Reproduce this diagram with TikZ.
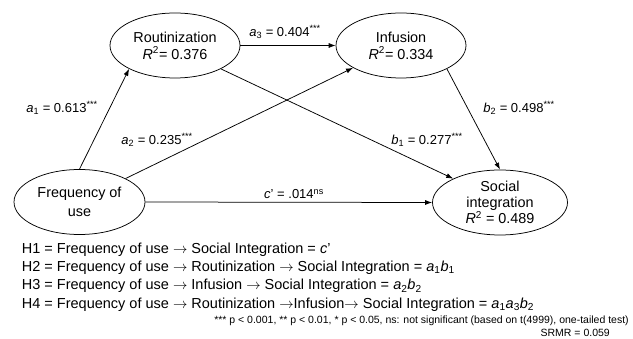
\documentclass[tikz,border=0pt]{standalone}
\usepackage{fontspec}
\setmainfont{Liberation Sans}
\usetikzlibrary{shapes.geometric,arrows.meta}
\begin{document}
\begin{tikzpicture}[x=1pt,y=-1pt,
  construct/.style={ellipse,draw,line width=0.75pt,inner sep=0pt,minimum width=131pt,minimum height=65pt},
  intext/.style={align=center,inner sep=0pt,font=\fontsize{14.4}{17}\selectfont},
  causal/.style={draw,line width=0.75pt,-{Latex[length=7pt,width=5pt]}},
  coef/.style={font=\fontsize{13}{15}\selectfont,inner sep=0pt},
  hyp/.style={anchor=base west,inner sep=0pt,font=\fontsize{14.5}{17}\selectfont},
  note/.style={anchor=base east,inner sep=0pt,font=\fontsize{10.5}{12}\selectfont}]
\useasboundingbox (0,0) rectangle (633,339);
% constructs
\node[construct,minimum width=130pt,label={[intext]center:{Routinization\\\textit{R}\textsuperscript{2}= 0.376}}] (rout) at (175,45.5) {};
\node[construct,minimum width=130pt,label={[intext]center:{Infusion\\\textit{R}\textsuperscript{2}= 0.334}}] (inf) at (401,45.5) {};
\node[construct,label={[intext,font=\fontsize{14.4}{19}\selectfont]center:{Frequency of\\use}}] (freq) at (79.5,202) {};
\node[construct,minimum width=135pt,label={[intext,font=\fontsize{14.4}{16}\selectfont]center:{Social\\integration\\\textit{R}\textsuperscript{2} = 0.489}}] (soc) at (500,202.5) {};
% paths
\draw[causal] (freq.north) -- (rout.207.5);
\draw[causal] (freq.27.8) -- (inf.205.6);
\draw[causal] (rout.east) -- (inf.west);
\draw[causal] (rout.333.4) -- (soc.153.2);
\draw[causal] (inf.333.4) -- (soc.north);
\draw[causal] (freq.east) -- (soc.west);
% coefficients
\node[coef] (la1) at (62,108) {\textit{a}\textsubscript{1} = 0.613\textsuperscript{***}};
\node[coef] (la2) at (157,140) {\textit{a}\textsubscript{2} = 0.235\textsuperscript{***}};
\node[coef] (la3) at (285,32) {\textit{a}\textsubscript{3} = 0.404\textsuperscript{***}};
\node[coef] (lb1) at (427,140) {\textit{b}\textsubscript{1} = 0.277\textsuperscript{***}};
\node[coef] (lb2) at (519,108) {\textit{b}\textsubscript{2} = 0.498\textsuperscript{***}};
\node[coef] (lc) at (294,194) {\textit{c}' = .014\textsuperscript{ns}};
% hypotheses
\node[hyp] (h1) at (21.7,253.3) {H1 = Frequency of use $\rightarrow$ Social Integration = \textit{c}'};
\node[hyp] (h2) at (21.7,271.6) {H2 = Frequency of use $\rightarrow$ Routinization $\rightarrow$ Social Integration = \textit{a}\textsubscript{1}\textit{b}\textsubscript{1}};
\node[hyp] (h3) at (21.7,289.9) {H3 = Frequency of use $\rightarrow$ Infusion $\rightarrow$ Social Integration = \textit{a}\textsubscript{2}\textit{b}\textsubscript{2}};
\node[hyp] (h4) at (21.7,308.2) {H4 = Frequency of use $\rightarrow$ Routinization $\rightarrow$Infusion$\rightarrow$ Social Integration = \textit{a}\textsubscript{1}\textit{a}\textsubscript{3}\textit{b}\textsubscript{2}};
% notes
\node[note] (n1) at (629,323.3) {*** p < 0.001, ** p < 0.01, * p < 0.05, ns: not significant (based on t(4999), one-tailed test)};
\node[note] (n2) at (610,336.3) {SRMR = 0.059};
\end{tikzpicture}
\end{document}
